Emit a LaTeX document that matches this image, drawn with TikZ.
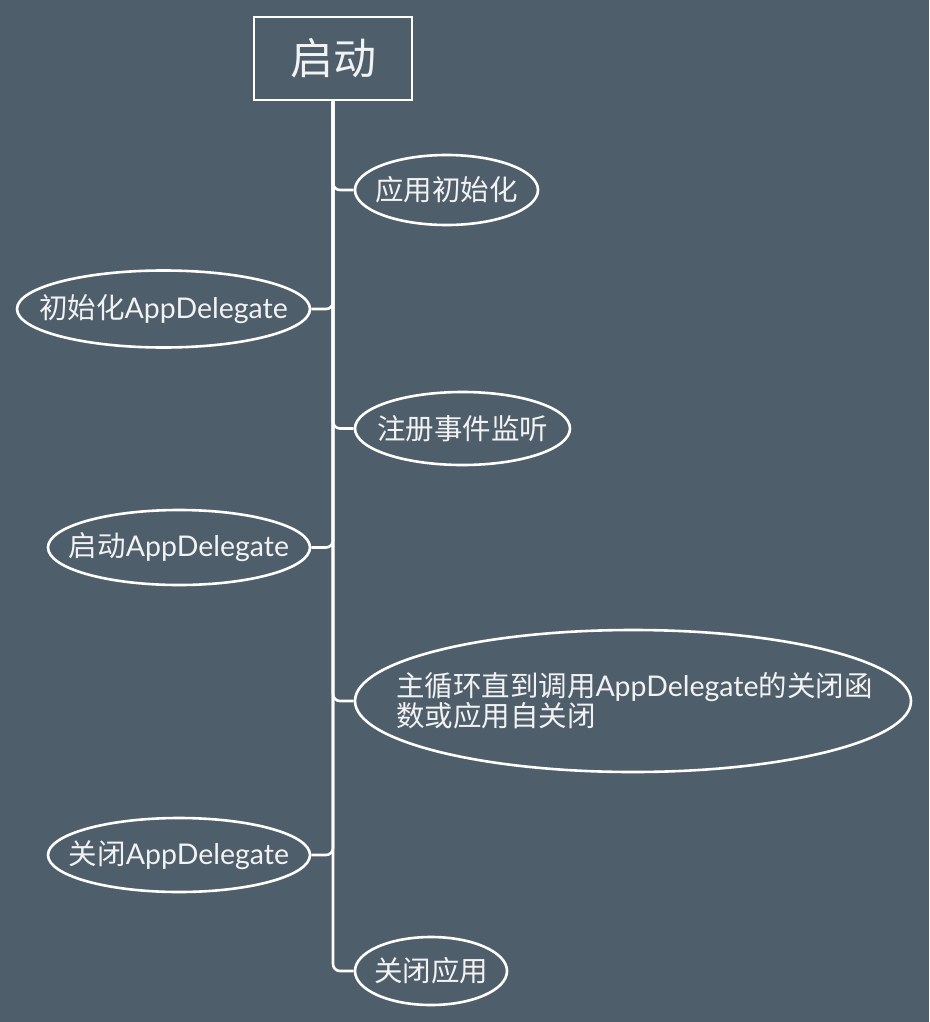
\documentclass[tikz,border=0pt]{standalone}
\usepackage{fontspec}
\setmainfont{Lato}
\newfontfamily\cjk{Noto Sans CJK SC}
\usetikzlibrary{shapes.geometric}
\definecolor{bgc}{HTML}{4F5E6B}
\definecolor{txc}{HTML}{F2F2F2}
\newcommand\zh[1]{{\cjk #1}}
\tikzset{
  ell/.style={ellipse, draw=white, line width=2.6pt, inner sep=0pt},
  lab/.style={text=txc, font=\fontsize{28.5}{30}\selectfont},
  conn/.style={draw=white, line width=2.6pt, rounded corners=7pt},
}
\begin{document}
\begin{tikzpicture}[x=1pt,y=-1pt]
\fill[bgc] (0,0) rectangle (929,1022);
\useasboundingbox (0,0) rectangle (929,1022);
\node[draw=white, line width=2.6pt, minimum width=158pt, minimum height=83pt, inner sep=0pt, text=txc, font=\cjk\fontsize{43}{46}\selectfont] (root) at (333,58.5) {启动};
\node[ell, minimum width=183pt, minimum height=70pt, label={[lab]center:\zh{应用初始化}}] (n1) at (446.5,190) {};
\node[ell, minimum width=293pt, minimum height=77pt, label={[lab]center:\zh{初始化}AppDelegate}] (n2) at (163.5,309) {};
\node[ell, minimum width=215pt, minimum height=73pt, label={[lab]center:\zh{注册事件监听}}] (n3) at (462.5,428.5) {};
\node[ell, minimum width=262pt, minimum height=75pt, label={[lab]center:\zh{启动}AppDelegate}] (n4) at (179,547.5) {};
\node[ell, minimum width=556pt, minimum height=142pt, label={[lab, align=left, text width=474pt]center:\zh{主循环直到调用}AppDelegate\zh{的关闭函}\\\zh{数或应用自关闭}}] (n5) at (633,701) {};
\node[ell, minimum width=262pt, minimum height=74pt, label={[lab]center:\zh{关闭}AppDelegate}] (n6) at (179,855) {};
\node[ell, minimum width=152pt, minimum height=68pt, label={[lab]center:\zh{关闭应用}}] (n7) at (431,971) {};
\foreach \n in {n1,n3,n5,n7}{
  \draw[conn] (root.south) |- (\n.west);
}
\foreach \n in {n2,n4,n6}{
  \draw[conn] (root.south) |- (\n.east);
}
\end{tikzpicture}
\end{document}
